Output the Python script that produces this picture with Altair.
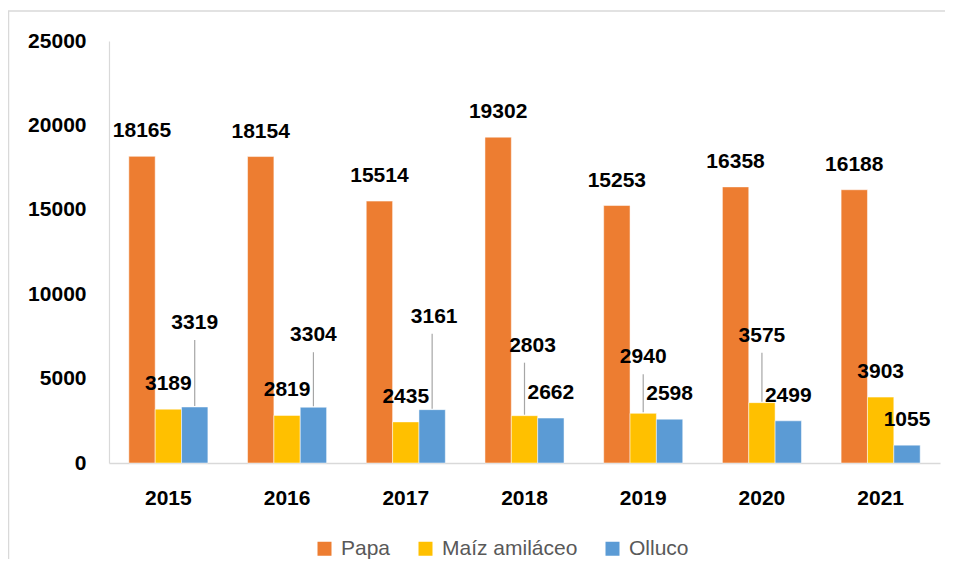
import altair as alt
import pandas as pd

years = ["2015", "2016", "2017", "2018", "2019", "2020", "2021"]
series = ["Papa", "Maíz amiláceo", "Olluco"]
papa = [18165, 18154, 15514, 19302, 15253, 16358, 16188]
maiz = [3189, 2819, 2435, 2803, 2940, 3575, 3903]
olluco = [3319, 3304, 3161, 2662, 2598, 2499, 1055]
colors = ["#ED7D31", "#FFC000", "#5B9BD5"]

# extra lift (px) of labels that are moved up and joined to their bar by a leader line
lift_papa = [0, 0, 0, 0, 0, 0, 0]
lift_maiz = [0, 0, 0, 45, 31, 42, 0]
lift_olluco = [59, 47, 68, 0, 0, 0, 0]
dx_maiz = [0, 0, 0, 8, 0, 0, 0]
dx_olluco = [0, 0, 2, 0, 0, 0, 0]
dx_papa = [0, 0, 0, 0, 0, 0, 0]

W, H = 831, 422
YMAX = 25000
k = YMAX / H  # data units per pixel
FONT = "Liberation Sans"

rows = []
for s, vals, lifts, dxs in [
    ("Papa", papa, lift_papa, dx_papa),
    ("Maíz amiláceo", maiz, lift_maiz, dx_maiz),
    ("Olluco", olluco, lift_olluco, dx_olluco),
]:
    for yr, v, lf, dx in zip(years, vals, lifts, dxs):
        rows.append({
            "year": yr, "serie": s, "value": v, "lift": lf, "dx": dx,
            "label_y": v + (25 + lf) * k,
            "line_top": v + (8 + lf) * k,
            "line_bot": v + 1 * k,
        })
df = pd.DataFrame(rows)

x = alt.X("year:N", sort=years,
          scale=alt.Scale(paddingInner=0.334, paddingOuter=0.167),
          axis=alt.Axis(title=None, labelAngle=0, labelFont=FONT, labelFontSize=21,
                        labelFontWeight="bold", labelColor="black", labelPadding=24,
                        ticks=False, domainColor="#d9d9d9", domainWidth=1.5))
xo = alt.XOffset("serie:N", sort=series, scale=alt.Scale(domain=series, paddingInner=0, paddingOuter=0))
yscale = alt.Scale(domain=[0, YMAX], nice=False)
y = alt.Y("value:Q", scale=yscale,
          axis=alt.Axis(title=None, values=[0, 5000, 10000, 15000, 20000, 25000], format="d",
                        grid=False, ticks=False, labelPadding=23, domainColor="#d9d9d9",
                        domainWidth=1.2, labelFont=FONT, labelFontSize=21,
                        labelFontWeight="bold", labelColor="black"))

border = alt.Chart(pd.DataFrame({"a": [0]})).mark_rect(
    fill=None, stroke="#d9d9d9", strokeWidth=1.5
).encode(x=alt.value(-100.5), x2=alt.value(W + 60), y=alt.value(-30), y2=alt.value(H + 200))

bars = alt.Chart(df).mark_bar(stroke="white", strokeWidth=0.5).encode(
    x=x, xOffset=xo, y=y,
    color=alt.Color("serie:N", sort=series, scale=alt.Scale(domain=series, range=colors),
                    legend=alt.Legend(title=None, orient="none", legendX=205, legendY=497,
                                      direction="horizontal", symbolType="square",
                                      symbolSize=196, symbolStrokeWidth=0, labelFont=FONT,
                                      labelFontSize=21, labelColor="#595959", labelOffset=6,
                                      columnPadding=24, padding=0)),
)

leaders = alt.Chart(df).transform_filter("datum.lift > 0").mark_rule(
    color="#a6a6a6", strokeWidth=1.2
).encode(x=alt.X("year:N", sort=years), xOffset=alt.XOffset("serie:N", sort=series),
         y=alt.Y("line_bot:Q", scale=yscale), y2="line_top:Q")

layers = [border, bars, leaders]
for d in sorted(df["dx"].unique()):
    layers.append(
        alt.Chart(df).transform_filter(f"datum.dx == {int(d)}").mark_text(
            font=FONT, fontSize=21, fontWeight="bold", color="black", baseline="middle",
            dx=int(d)
        ).encode(x=alt.X("year:N", sort=years), xOffset=alt.XOffset("serie:N", sort=series),
                 y=alt.Y("label_y:Q", scale=yscale), text="value:Q")
    )

chart = alt.layer(*layers).properties(
    width=W, height=H,
    autosize=alt.AutoSizeParams(type="none"),
    padding={"left": 101, "top": 33, "right": 5, "bottom": 96},
).configure_view(stroke=None)

chart.save("out.html", embed_options={"renderer": "svg", "actions": False})
